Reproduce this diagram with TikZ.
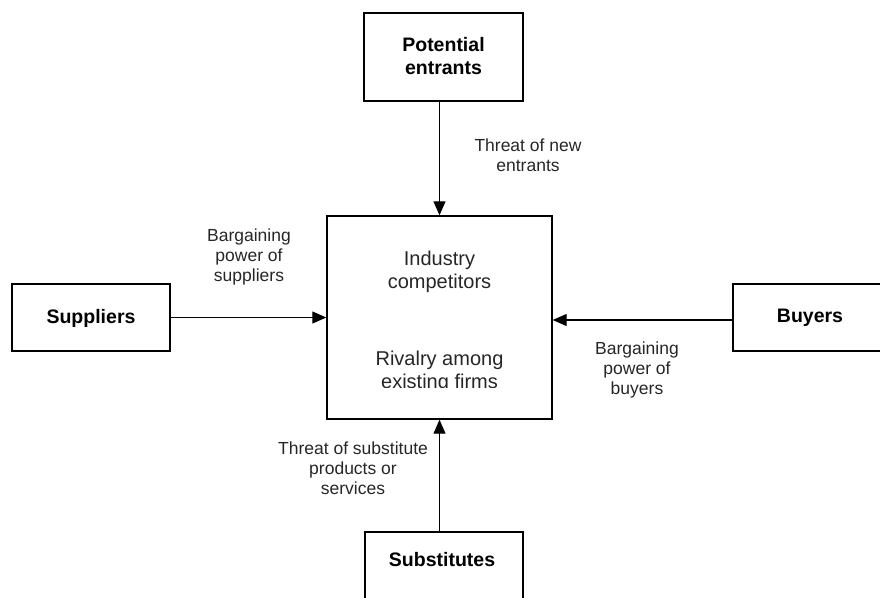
\documentclass[tikz,border=0pt]{standalone}
\usepackage{fontspec}
\setmainfont{Liberation Sans}
\usetikzlibrary{arrows.meta}
\begin{document}
\begin{tikzpicture}[x=1pt,y=-1pt,
  box/.style={draw=black,line width=1.4pt,inner sep=0pt},
  bold/.style={font=\fontsize{19.5}{23}\selectfont\bfseries,align=center,inner sep=0pt},
  inner/.style={font=\fontsize{20}{23}\selectfont,align=center,inner sep=0pt,text=black!85},
  force/.style={font=\fontsize{17.5}{20}\selectfont,align=center,inner sep=0pt,text=black!85},
  arr/.style={line width=1.2pt,-{Triangle[length=14pt,width=12pt]}}]
\useasboundingbox (0,0) rectangle (880,597);

% the five boxes
\node[box,minimum width=159pt,minimum height=88pt] (pot) at (443.5,57) {};
\node[bold] (potl) at (443.5,56.5) {Potential\\entrants};
\node[box,minimum width=225pt,minimum height=203pt] (comp) at (439.5,317.5) {};
\node[box,minimum width=158pt,minimum height=67pt] (sup) at (91,317.5) {};
\node[bold] (supl) at (91,318) {Suppliers};
\node[box,minimum width=154pt,minimum height=67pt] (buy) at (810,317.5) {};
\node[bold] (buyl) at (810,318) {Buyers};
\node[box,minimum width=158pt,minimum height=88pt] (sub) at (444,576) {};
\node[bold] (subl) at (442,560) {Substitutes};

% text inside the central box
\node[inner] (ind) at (439.5,271.5) {Industry\\competitors};
\begin{scope}
  \clip (330,330) rectangle (550,387);
  \node[inner] (riv) at (439.5,371.5) {Rivalry among\\existing firms};
\end{scope}

% the forces acting on the industry
\draw[arr] (pot.south -| comp.north) -- (comp.north);
\draw[arr] (sup.east) -- (sup.east -| comp.west);
\draw[arr] (buy.west) ++(0,2.5) coordinate (bw) -- (bw -| comp.east);
\draw[arr] (sub.north -| comp.south) -- (comp.south);

% force labels
\node[force] (newl) at (528,155) {Threat of new\\entrants};
\node[force] (supf) at (249,257) {Bargaining\\power of\\suppliers};
\node[force] (buyf) at (637,370) {Bargaining\\power of\\buyers};
\node[force] (subf) at (353,468) {Threat of substitute\\products or\\services};
\end{tikzpicture}
\end{document}
